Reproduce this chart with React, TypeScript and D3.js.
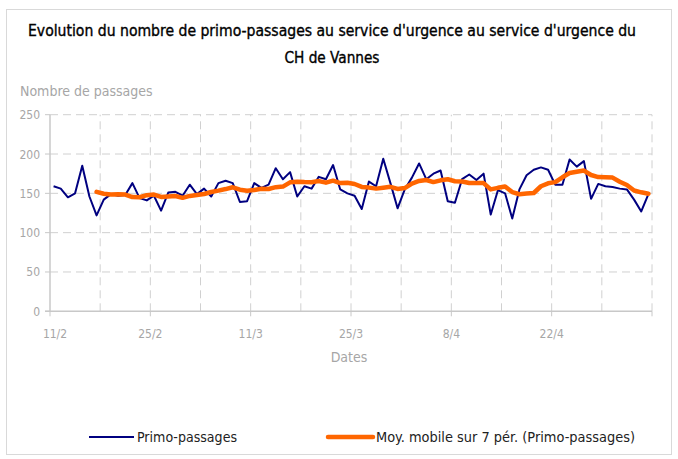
import * as d3 from 'd3';

// Daily primo-passages, from 11/2 (one value per day)
const START = new Date(2013, 1, 11);
const END = new Date(2013, 4, 6);
const passages = [
  159, 156, 145, 150, 185, 146, 122, 142, 149, 147, 148, 163, 144, 141,
  147, 128, 151, 152, 147, 161, 149, 156, 146, 163, 166, 163, 139, 140,
  163, 157, 161, 182, 168, 177, 146, 159, 156, 171, 168, 186, 155, 150,
  147, 130, 165, 159, 194, 163, 131, 155, 170, 188, 168, 175, 179, 140,
  138, 168, 174, 167, 175, 123, 154, 150, 118, 155, 173, 180, 183, 180,
  161, 161, 193, 184, 191, 143, 162, 159, 158, 156, 155, 142, 127, 149,
];
const yTicks = [0, 50, 100, 150, 200, 250];
const xTickLabels = ['11/2', '25/2', '11/3', '25/3', '8/4', '22/4'];
const seriesNames = ['Primo-passages', 'Moy. mobile sur 7 pér. (Primo-passages)'];
const PERIOD = 7;

const W = 678;
const H = 459;
const FONT = '"Liberation Sans Narrow", "DejaVu Sans Condensed", "Roboto", sans-serif';
const BLUE = '#000080';
const ORANGE = '#ff6600';
const GRID = '#d0d0d0';
const MUTED = '#a6a6a6';

type Pt = { date: Date; v: number };

export default function App() {
  const x = d3.scaleTime().domain([START, END]).range([50, 652]);
  const y = d3.scaleLinear().domain([0, 250]).range([311.3, 114.7]);

  const points: Pt[] = passages.map((v, i) => ({
    date: d3.timeHour.offset(d3.timeDay.offset(START, i), 12),
    v,
  }));
  // Excel trendline: trailing moving average over 7 periods
  const avg: Pt[] = points
    .map((p, i) =>
      i < PERIOD - 1
        ? null
        : { date: p.date, v: d3.mean(passages.slice(i - PERIOD + 1, i + 1))! }
    )
    .filter((p): p is Pt => p !== null);

  const line = d3
    .line<Pt>()
    .x(d => x(d.date))
    .y(d => y(d.v));

  const weeks = d3.range(13).map(k => d3.timeDay.offset(START, 7 * k));
  const [x0, x1] = x.range();
  const [yb, yt] = y.range();

  return (
    <svg
      width={W}
      height={H}
      style={{ position: 'absolute', left: 0, top: 0, fontFamily: FONT }}
    >
      <rect x={0} y={0} width={W} height={H} fill="#fff" />
      <rect x={6.5} y={9.5} width={665} height={445} fill="none" stroke="#d9d9d9" />

      <g fill="#000" stroke="#000" strokeWidth={0.35}>
        <text x={332} y={36} textAnchor="middle" fontSize={16}
          textLength={608} lengthAdjust="spacingAndGlyphs">
          Evolution du nombre de primo-passages au service d'urgence au service d'urgence du
        </text>
        <text x={332} y={63} textAnchor="middle" fontSize={16}
          textLength={95} lengthAdjust="spacingAndGlyphs">
          CH de Vannes
        </text>
      </g>

      <text x={20} y={96} fontSize={14} fill={MUTED}>Nombre de passages</text>

      {/* horizontal grid */}
      {yTicks.filter(t => t > 0).map(t => (
        <line key={t} x1={x0} x2={x1} y1={y(t)} y2={y(t)} stroke={GRID} strokeDasharray="8,5" />
      ))}
      {/* vertical grid, weekly */}
      {weeks.slice(1).map((d, k) => (
        <line key={k} x1={x(d)} x2={x(d)} y1={yb} y2={yt} stroke={GRID} strokeDasharray="8,5" />
      ))}

      {/* axes */}
      <line x1={x0} x2={x0} y1={yb} y2={yt} stroke="#c8c8c8" strokeWidth={1.5} />
      <line x1={x0 - 5} x2={x1} y1={yb} y2={yb} stroke="#c8c8c8" strokeWidth={1.5} />
      {yTicks.map(t => (
        <g key={t}>
          <line x1={x0 - 5} x2={x0} y1={y(t)} y2={y(t)} stroke="#c8c8c8" />
          <text x={40} y={y(t) + 4.5} textAnchor="end" fontSize={12} fill={MUTED}>{t}</text>
        </g>
      ))}
      {weeks.map((d, k) =>
        k % 2 === 0 ? (
          <g key={k}>
            <line x1={x(d)} x2={x(d)} y1={yb} y2={yb + 5} stroke="#c8c8c8" />
            {k / 2 < xTickLabels.length && (
              <text x={x(d) + (k === 0 ? 5 : 0)} y={338} textAnchor="middle" fontSize={12} fill={MUTED}>
                {xTickLabels[k / 2]}
              </text>
            )}
          </g>
        ) : null
      )}
      <text x={349} y={362} textAnchor="middle" fontSize={14} fill={MUTED}>Dates</text>

      {/* series */}
      <path d={line(points)!} fill="none" stroke={BLUE} strokeWidth={2} strokeLinejoin="round" />
      <path d={line(avg)!} fill="none" stroke={ORANGE} strokeWidth={4.5} strokeLinejoin="round" strokeLinecap="round" />

      {/* legend */}
      <line x1={89} x2={134} y1={437} y2={437} stroke={BLUE} strokeWidth={2} />
      <text x={137} y={442} fontSize={14} fill="#222" textLength={100} lengthAdjust="spacingAndGlyphs">
        {seriesNames[0]}
      </text>
      <line x1={328} x2={373} y1={437} y2={437} stroke={ORANGE} strokeWidth={4.5} strokeLinecap="round" />
      <text x={376} y={442} fontSize={14} fill="#222" textLength={259} lengthAdjust="spacingAndGlyphs">
        {seriesNames[1]}
      </text>
    </svg>
  );
}
